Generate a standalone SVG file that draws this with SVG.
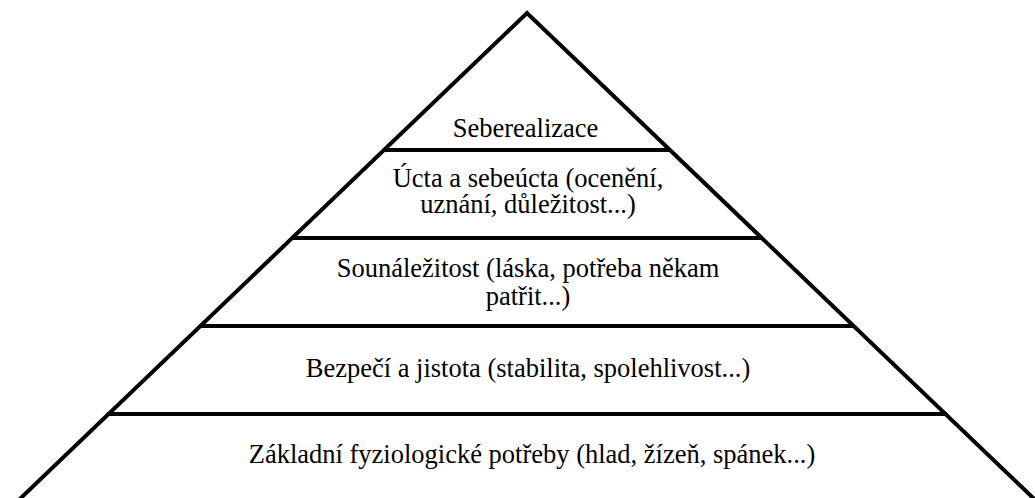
<svg xmlns="http://www.w3.org/2000/svg" width="1035" height="498" viewBox="0 0 1035 498">
<style>
.ln{stroke:#000;stroke-width:4;fill:none}
</style>
<rect width="1035" height="498" fill="#fff"/>
<g id="outline">
<polyline class="ln" points="18.8,500 527,13 1035.2,500"/>
</g>
<g id="connectors">
<line class="ln" x1="383.4" y1="150" x2="670.6" y2="150"/>
<line class="ln" x1="291.2" y1="238" x2="762.8" y2="238"/>
<line class="ln" x1="199" y1="326" x2="855" y2="326"/>
<line class="ln" x1="106.8" y1="414" x2="947.2" y2="414"/>
</g>
<g id="labels" font-family="Liberation Serif, Times New Roman, serif" font-size="26.5" fill="#000" text-anchor="middle">
<g id="level5"><text x="525.5" y="137">Seberealizace</text></g>
<g id="level4"><text x="528" y="187">Úcta a sebeúcta (ocenění,</text><text x="528" y="213">uznání, důležitost...)</text></g>
<g id="level3"><text x="528" y="277">Sounáležitost (láska, potřeba někam</text><text x="528" y="305">patřit...)</text></g>
<g id="level2"><text x="528" y="377">Bezpečí a jistota (stabilita, spolehlivost...)</text></g>
<g id="level1"><text x="532" y="463">Základní fyziologické potřeby (hlad, žízeň, spánek...)</text></g>
</g>
</svg>
